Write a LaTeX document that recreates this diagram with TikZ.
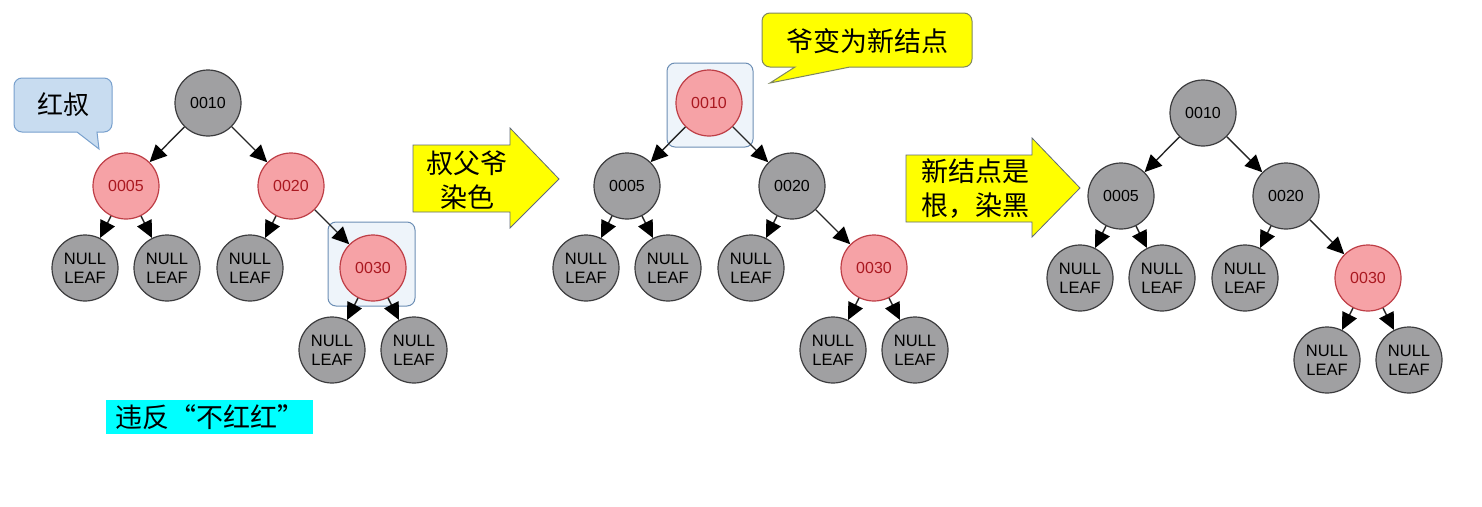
\documentclass[tikz,border=0pt]{standalone}
\usepackage{fontspec}
\setmainfont{Liberation Sans}
\newfontfamily\cjk{Noto Sans CJK SC}
\usepackage{tikz}
\usetikzlibrary{arrows.meta,calc,backgrounds}

\definecolor{nodegray}{RGB}{160,160,162}
\definecolor{nodeline}{RGB}{60,60,62}
\definecolor{redfill}{RGB}{246,162,166}
\definecolor{redline}{RGB}{190,62,70}
\definecolor{redtext}{RGB}{170,24,32}
\definecolor{focusfill}{RGB}{238,244,250}
\definecolor{focusline}{RGB}{108,142,180}
\definecolor{bubblefill}{RGB}{200,220,240}
\definecolor{bubbleline}{RGB}{120,160,205}
\definecolor{noteyellow}{RGB}{255,255,0}
\definecolor{noteline}{RGB}{95,105,120}
\definecolor{notecyan}{RGB}{0,255,255}

\tikzset{
  blknode/.style={circle,draw=nodeline,line width=1.2pt,fill=nodegray,minimum size=66pt,inner sep=0pt,
    text=black,font=\fontsize{16}{18}\selectfont,align=center},
  rednode/.style={blknode,draw=redline,fill=redfill,text=redtext},
  leaf/.style={blknode,font=\fontsize{16.5}{19}\selectfont},
  link/.style={draw=black!85,line width=1.4pt,-{Triangle[length=17pt,width=16pt,color=black]}},
  focus/.style={draw=focusline,fill=focusfill,line width=1pt,rounded corners=8pt},
  bigarrow/.style={draw=noteline,fill=noteyellow,line width=0.8pt},
  cn/.style={font=\cjk\fontsize{27}{34}\selectfont,align=center,inner sep=0pt}
}

\begin{document}
\begin{tikzpicture}[x=1pt,y=-1pt]
\useasboundingbox (0,0) rectangle (1482,506);

% before: red uncle
\node[blknode] (a10) at (208,103) {0010};
\node[rednode] (a05) at (126,186) {0005};
\node[rednode] (a20) at (291,186) {0020};
\node[leaf] (aL1) at (85,268) {NULL\\LEAF};
\node[leaf] (aL2) at (167,268) {NULL\\LEAF};
\node[leaf] (aL3) at (250,268) {NULL\\LEAF};
\node[rednode] (a30) at (373,268) {0030};
\node[leaf] (aL4) at (332,350) {NULL\\LEAF};
\node[leaf] (aL5) at (414,350) {NULL\\LEAF};

% after recolouring
\begin{scope}[shift={(501,0)}]
\node[rednode] (b10) at (208,103) {0010};
\node[blknode] (b05) at (126,186) {0005};
\node[blknode] (b20) at (291,186) {0020};
\node[leaf] (bL1) at (85,268) {NULL\\LEAF};
\node[leaf] (bL2) at (167,268) {NULL\\LEAF};
\node[leaf] (bL3) at (250,268) {NULL\\LEAF};
\node[rednode] (b30) at (373,268) {0030};
\node[leaf] (bL4) at (332,350) {NULL\\LEAF};
\node[leaf] (bL5) at (414,350) {NULL\\LEAF};
\end{scope}

% root turned black
\begin{scope}[shift={(995,10)}]
\node[blknode] (c10) at (208,103) {0010};
\node[blknode] (c05) at (126,186) {0005};
\node[blknode] (c20) at (291,186) {0020};
\node[leaf] (cL1) at (85,268) {NULL\\LEAF};
\node[leaf] (cL2) at (167,268) {NULL\\LEAF};
\node[leaf] (cL3) at (250,268) {NULL\\LEAF};
\node[rednode] (c30) at (373,268) {0030};
\node[leaf] (cL4) at (332,350) {NULL\\LEAF};
\node[leaf] (cL5) at (414,350) {NULL\\LEAF};
\end{scope}

\foreach \p in {a,b,c}
  \foreach \u/\v in {10/05,10/20,05/L1,05/L2,20/L3,20/30,30/L4,30/L5}
    \draw[link] (\p\u) -- (\p\v);

\begin{pgfonlayer}{background}
\draw[focus] ($(a30)+(-45,-46)$) rectangle ($(a30)+(42,38)$);
\draw[focus] ($(b10)+(-42,-40)$) rectangle ($(b10)+(44,44)$);
\end{pgfonlayer}

% notes
\draw[draw=bubbleline,fill=bubblefill,line width=1pt] (77,132) -- (99,149) -- (97,132)
  {[rounded corners=8pt] -- (112,132) -- (112,78) -- (14,78) -- (14,132)} -- cycle;
\node[cn,font=\cjk\fontsize{26}{30}\selectfont] (uncle) at (63,105) {红叔};

\draw[draw=noteline!80!yellow,fill=noteyellow,line width=1pt] (795,67) -- (770,83) -- (850,67)
  {[rounded corners=8pt] -- (972,67) -- (972,13) -- (762,13) -- (762,67)} -- cycle;
\node[cn] (grand) at (867,41) {爷变为新结点};

\draw[bigarrow] (413,145) -- (510,145) -- (510,128) -- (559,179) -- (510,228) -- (510,212) -- (413,212) -- cycle;
\node[cn] (dye) at (467,180) {叔父爷\\染色};

\draw[bigarrow] (906,155) -- (1032,155) -- (1032,138) -- (1080,188) -- (1032,237) -- (1032,222) -- (906,222) -- cycle;
\node[cn] (root) at (975,189) {新结点是\\根，染黑};

\node[fill=notecyan,minimum width=207pt,minimum height=34pt,inner sep=0pt,
  font=\cjk\fontsize{27}{30}\selectfont] (rule) at (209.5,417) {违反“不红红”};
\end{tikzpicture}
\end{document}
